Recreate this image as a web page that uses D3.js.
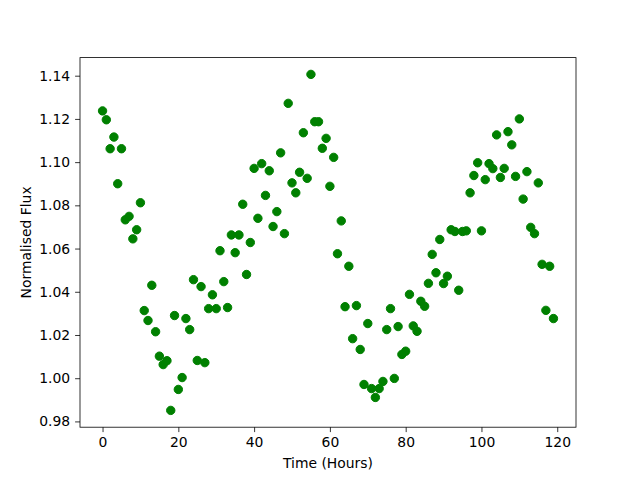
<!DOCTYPE html>
<html>
<head>
<meta charset="utf-8">
<script src="https://cdn.jsdelivr.net/npm/d3@7"></script>
<style>
  html, body { margin: 0; padding: 0; background: #fff; }
  svg { display: block; font-family: "DejaVu Sans", sans-serif; }
</style>
</head>
<body>
<svg class="chart" width="640" height="480"></svg>
<script>
const hours = [
  0, 1, 2, 3, 4, 5, 6, 7, 8, 9, 10, 11, 12, 13, 14, 15, 16, 17, 18, 19,
  20, 21, 22, 23, 24, 25, 26, 27, 28, 29, 30, 31, 32, 33, 34, 35, 36, 37, 38, 39,
  40, 41, 42, 43, 44, 45, 46, 47, 48, 49, 50, 51, 52, 53, 54, 55, 56, 57, 58, 59,
  60, 61, 62, 63, 64, 65, 66, 67, 68, 69, 70, 71, 72, 73, 74, 75, 76, 77, 78, 79,
  80, 81, 82, 83, 84, 85, 86, 87, 88, 89, 90, 91, 92, 93, 94, 95, 96, 97, 98, 99,
  100, 101, 102, 103, 104, 105, 106, 107, 108, 109, 110, 111, 112, 113, 114, 115, 116, 117, 118, 119
];
const flux = [
  1.1237, 1.1196, 1.1062, 1.1116, 1.0900, 1.1062, 1.0733, 1.0749, 1.0645, 1.0687,
  1.0812, 1.0313, 1.0267, 1.0430, 1.0215, 1.0102, 1.0063, 1.0081, 0.9851, 1.0290,
  0.9948, 1.0003, 1.0276, 1.0225, 1.0456, 1.0082, 1.0424, 1.0072, 1.0322, 1.0386,
  1.0322, 1.0590, 1.0447, 1.0327, 1.0663, 1.0581, 1.0663, 1.0805, 1.0480, 1.0628,
  1.0971, 1.0740, 1.0993, 1.0846, 1.0960, 1.0702, 1.0771, 1.1043, 1.0669, 1.1272,
  1.0904, 1.0858, 1.0953, 1.1136, 1.0925, 1.1406, 1.1187, 1.1187, 1.1064, 1.1110,
  1.0888, 1.1022, 1.0576, 1.0728, 1.0331, 1.0518, 1.0183, 1.0336, 1.0133, 0.9971,
  1.0253, 0.9952, 0.9911, 0.9952, 0.9985, 1.0225, 1.0322, 0.9999, 1.0239, 1.0110,
  1.0125, 1.0388, 1.0242, 1.0217, 1.0356, 1.0333, 1.0439, 1.0573, 1.0488, 1.0642,
  1.0438, 1.0472, 1.0687, 1.0679, 1.0407, 1.0679, 1.0682, 1.0858, 1.0938, 1.0997,
  1.0682, 1.0919, 1.0993, 1.0970, 1.1126, 1.0929, 1.0971, 1.1141, 1.1080, 1.0934,
  1.1200, 1.0829, 1.0956, 1.0698, 1.0669, 1.0904, 1.0527, 1.0314, 1.0518, 1.0276
];
const xTicks = [0, 20, 40, 60, 80, 100, 120];
const yTicks = [0.98, 1.00, 1.02, 1.04, 1.06, 1.08, 1.10, 1.12, 1.14];

const width = 640, height = 480;
const plotIndents = { left: 80, right: 64, top: 57.6, bottom: 52.8 };
const pointColor = '#008000';

const svg = d3.select('.chart');

// matplotlib style 5% margins around the data
const pad = (ext) => {
  const m = (ext[1] - ext[0]) * 0.05;
  return [ext[0] - m, ext[1] + m];
};

const xScale = d3.scaleLinear()
  .domain(pad(d3.extent(hours)))
  .range([plotIndents.left, width - plotIndents.right]);
const yScale = d3.scaleLinear()
  .domain(pad(d3.extent(flux)))
  .range([height - plotIndents.bottom, plotIndents.top]);

const xAxis = svg.append('g')
  .attr('transform', `translate(0,${height - plotIndents.bottom})`)
  .call(d3.axisBottom(xScale).tickValues(xTicks).tickFormat(d3.format('d'))
    .tickSizeInner(4.9).tickSizeOuter(0).tickPadding(4.9));

const yAxis = svg.append('g')
  .attr('transform', `translate(${plotIndents.left},0)`)
  .call(d3.axisLeft(yScale).tickValues(yTicks).tickFormat(d3.format('.2f'))
    .tickSizeInner(4.9).tickSizeOuter(0).tickPadding(4.9));

[xAxis, yAxis].forEach(function (ax) {
  ax.select('.domain').remove();
  ax.selectAll('.tick line').attr('stroke', '#000').attr('stroke-width', 0.8);
  ax.selectAll('.tick text').attr('fill', '#000')
    .style('font-size', '13.9px').style('font-family', '"DejaVu Sans", sans-serif');
});

// frame
svg.append('rect')
  .attr('x', plotIndents.left)
  .attr('y', plotIndents.top)
  .attr('width', width - plotIndents.left - plotIndents.right)
  .attr('height', height - plotIndents.top - plotIndents.bottom)
  .style('fill', 'none')
  .style('stroke', '#000')
  .style('stroke-width', 0.8);

const points = hours.map(function (h, i) { return { x: h, y: flux[i] }; });

svg.append('g').selectAll('.dot')
  .data(points)
  .enter().append('circle')
  .classed('dot', true)
  .attr('r', 4.2)
  .attr('cx', function (d) { return xScale(d.x); })
  .attr('cy', function (d) { return yScale(d.y); })
  .style('fill', pointColor)
  .style('stroke', pointColor)
  .style('stroke-width', 1);

svg.append('text')
  .attr('x', plotIndents.left + (width - plotIndents.left - plotIndents.right) / 2)
  .attr('y', 468)
  .attr('text-anchor', 'middle')
  .style('font-size', '13.9px')
  .text('Time (Hours)');

svg.append('text')
  .attr('transform', `translate(31,${plotIndents.top + (height - plotIndents.top - plotIndents.bottom) / 2}) rotate(-90)`)
  .attr('text-anchor', 'middle')
  .style('font-size', '13.9px')
  .text('Normalised Flux');
</script>
</body>
</html>
